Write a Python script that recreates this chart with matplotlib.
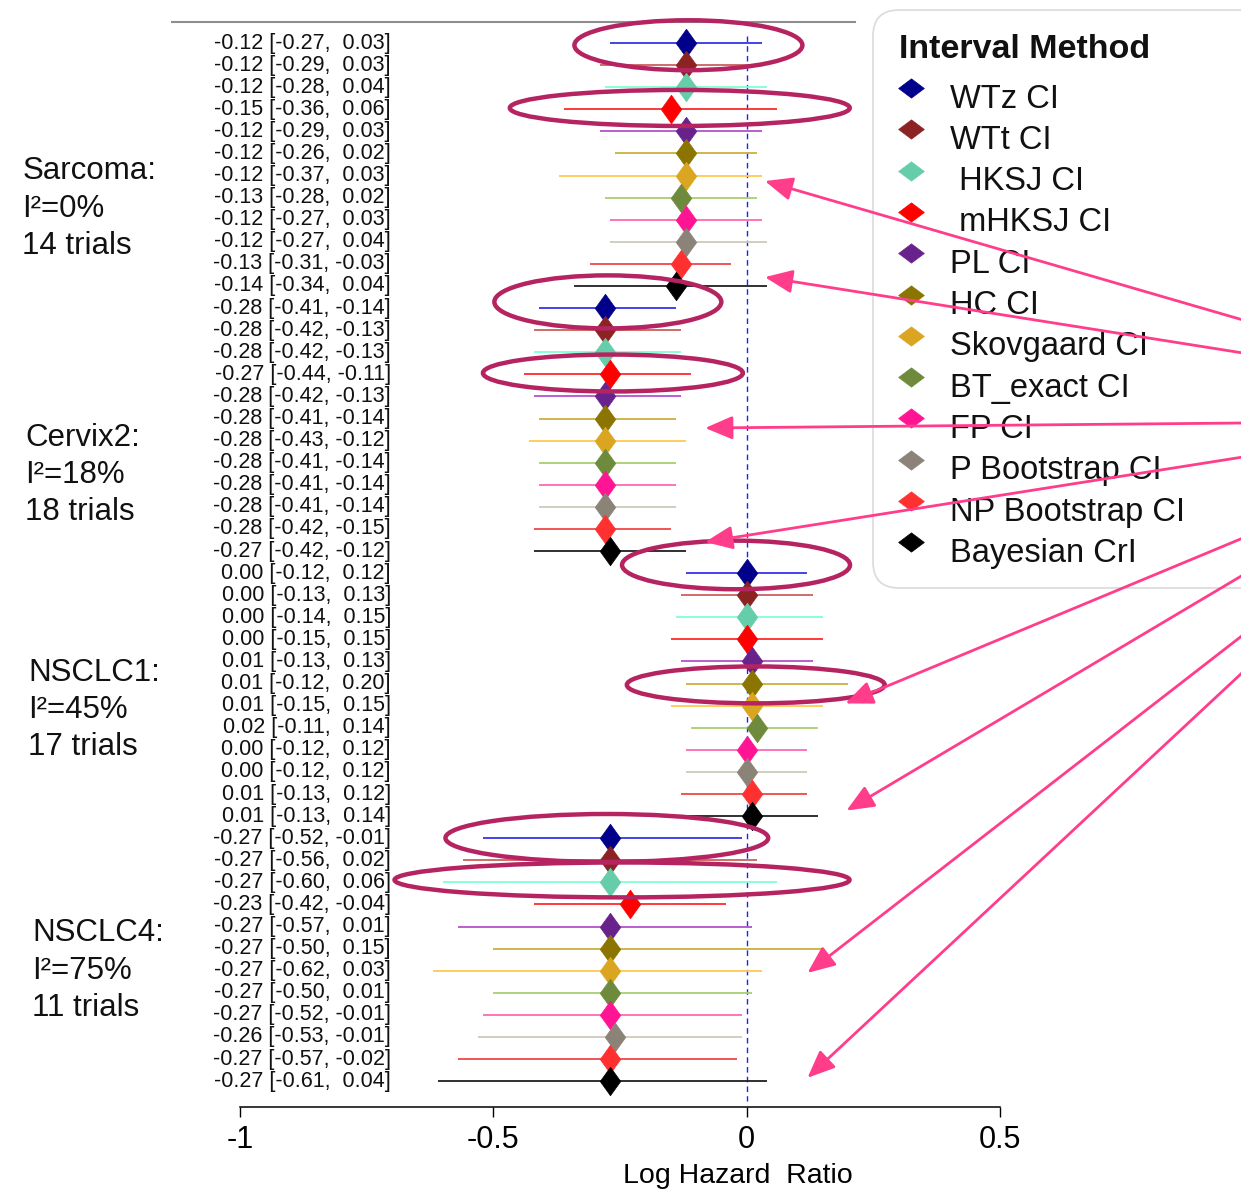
import matplotlib
matplotlib.use("Agg")
import matplotlib.pyplot as plt
from matplotlib.path import Path
from matplotlib.patches import Ellipse, FancyBboxPatch
from matplotlib import font_manager

# ---------------------------------------------------------------- data
methods = ["WTz CI", "WTt CI", " HKSJ CI", " mHKSJ CI", "PL CI", "HC CI",
           "Skovgaard CI", "BT_exact CI", "FP CI", "P Bootstrap CI",
           "NP Bootstrap CI", "Bayesian CrI"]

groups = ["Sarcoma", "Cervix2", "NSCLC1", "NSCLC4"]
i2_pct = [0, 18, 45, 75]
n_trials = [14, 18, 17, 11]

sarcoma_est = [-0.12, -0.12, -0.12, -0.15, -0.12, -0.12, -0.12, -0.13, -0.12, -0.12, -0.13, -0.14]
sarcoma_lo = [-0.27, -0.29, -0.28, -0.36, -0.29, -0.26, -0.37, -0.28, -0.27, -0.27, -0.31, -0.34]
sarcoma_hi = [0.03, 0.03, 0.04, 0.06, 0.03, 0.02, 0.03, 0.02, 0.03, 0.04, -0.03, 0.04]

cervix2_est = [-0.28, -0.28, -0.28, -0.27, -0.28, -0.28, -0.28, -0.28, -0.28, -0.28, -0.28, -0.27]
cervix2_lo = [-0.41, -0.42, -0.42, -0.44, -0.42, -0.41, -0.43, -0.41, -0.41, -0.41, -0.42, -0.42]
cervix2_hi = [-0.14, -0.13, -0.13, -0.11, -0.13, -0.14, -0.12, -0.14, -0.14, -0.14, -0.15, -0.12]

nsclc1_est = [0.00, 0.00, 0.00, 0.00, 0.01, 0.01, 0.01, 0.02, 0.00, 0.00, 0.01, 0.01]
nsclc1_lo = [-0.12, -0.13, -0.14, -0.15, -0.13, -0.12, -0.15, -0.11, -0.12, -0.12, -0.13, -0.13]
nsclc1_hi = [0.12, 0.13, 0.15, 0.15, 0.13, 0.20, 0.15, 0.14, 0.12, 0.12, 0.12, 0.14]

nsclc4_est = [-0.27, -0.27, -0.27, -0.23, -0.27, -0.27, -0.27, -0.27, -0.27, -0.26, -0.27, -0.27]
nsclc4_lo = [-0.52, -0.56, -0.60, -0.42, -0.57, -0.50, -0.62, -0.50, -0.52, -0.53, -0.57, -0.61]
nsclc4_hi = [-0.01, 0.02, 0.06, -0.04, 0.01, 0.15, 0.03, 0.01, -0.01, -0.01, -0.02, 0.04]

x_ticks = [-1, -0.5, 0, 0.5]
x_ticklabels = ["-1", "-0.5", "0", "0.5"]

# ---------------------------------------------------------------- styles
marker_colors = ["#00008B", "#8B2323", "#66CDAA", "#FF0000", "#68228B", "#8B7500",
                 "#DAA520", "#6E8B3D", "#FF1493", "#8B8378", "#FF3030", "#000000"]
line_colors = ["#3535E8", "#CD6060", "#7FFFD4", "#FF2A2A", "#B452CD", "#CDB040",
               "#FFC850", "#A8D070", "#FF69B4", "#CFCAB8", "#EE4848", "#202020"]
ring_color = "#B52461"
arrow_color = "#FF3D8B"

names = {f.name for f in font_manager.fontManager.ttflist}
NARROW = "Liberation Sans Narrow" if "Liberation Sans Narrow" in names else "Liberation Sans"
SANS = "Liberation Sans"

W, H = 1241, 1190
fig = plt.figure(figsize=(W / 100, H / 100), dpi=100)

# legend panel lives on a full-figure canvas underneath the forest plot
lg = fig.add_axes([0, 0, 1, 1], zorder=0)
lg.set_xlim(0, W)
lg.set_ylim(H, 0)
lg.axis("off")

ax = fig.add_axes([240 / W, (H - 1107) / H, 760 / W, 1085 / H], zorder=1)
ax.patch.set_alpha(0)

# ---------------------------------------------------------------- forest plot
all_est = [sarcoma_est, cervix2_est, nsclc1_est, nsclc4_est]
all_lo = [sarcoma_lo, cervix2_lo, nsclc1_lo, nsclc4_lo]
all_hi = [sarcoma_hi, cervix2_hi, nsclc1_hi, nsclc4_hi]
n_m = len(methods)

tall_diamond = Path([(0, 1), (0.72, 0), (0, -1), (-0.72, 0), (0, 1)],
                    [Path.MOVETO, Path.LINETO, Path.LINETO, Path.LINETO, Path.CLOSEPOLY])
flat_diamond = Path([(0, 0.75), (1, 0), (0, -0.75), (-1, 0), (0, 0.75)],
                    [Path.MOVETO, Path.LINETO, Path.LINETO, Path.LINETO, Path.CLOSEPOLY])

for g in range(len(groups)):
    for m in range(n_m):
        row = g * n_m + m
        e, lo, hi = all_est[g][m], all_lo[g][m], all_hi[g][m]
        ax.hlines(row, lo, hi, colors=line_colors[m], lw=1.3, zorder=2)
        ax.plot([e], [row], ls="none", marker=tall_diamond, ms=20.5,
                color=marker_colors[m], mec=marker_colors[m], mew=0.5, zorder=3)
        ax.text(-0.702, row, f"{e:.2f} [{lo:.2f}, {hi:5.2f}]", ha="right", va="center",
                fontsize=15.5, family=NARROW, color="#111111", clip_on=False)

n_rows = len(groups) * n_m
ax.vlines(0, -0.3, n_rows - 0.1, colors="#2020FF", linestyles=(0, (4, 3)), lw=1, zorder=1)

# group descriptions
group_mid = [7.5, 19.55, 30.2, 42.0]
group_x = [-1.430, -1.424, -1.418, -1.410]
for g, name in enumerate(groups):
    for k, txt in enumerate([f"{name}:", f"I\u00b2={i2_pct[g]}%", f"{n_trials[g]} trials"]):
        ax.text(group_x[g], group_mid[g] + (k - 1) * 1.69, txt, ha="left", va="center",
                fontsize=22.5, family=SANS, color="#111111", clip_on=False)

ax.set_xlim(-1, 0.5)
ax.set_ylim(48.17, -0.951)
ax.spines["left"].set_visible(False)
ax.spines["right"].set_visible(False)
ax.spines["top"].set_bounds(-1.134, 0.214)
ax.spines["top"].set_color("#8E8E8E")
ax.spines["top"].set_linewidth(1.5)
ax.spines["bottom"].set_bounds(-1, 0.5)
ax.spines["bottom"].set_linewidth(1.1)
ax.set_yticks([])
ax.set_xticks(x_ticks)
ax.set_xticklabels(x_ticklabels, family=NARROW, fontsize=22)
ax.tick_params(axis="x", direction="out", length=7, width=1, pad=6)
ax.set_xlabel("Log Hazard  Ratio", family=NARROW, fontsize=20.5)
ax.xaxis.set_label_coords(0.655, -0.064)
ax.xaxis.label.set_verticalalignment("center")

# ---------------------------------------------------------------- highlights
rings = [(-0.115, 0.1, 0.45, 2.26), (-0.132, 2.94, 0.671, 1.63),
         (-0.274, 11.72, 0.448, 2.40), (-0.264, 14.94, 0.513, 1.67),
         (-0.021, 23.63, 0.450, 2.20), (0.018, 29.06, 0.509, 1.67),
         (-0.276, 35.99, 0.637, 2.17), (-0.246, 37.89, 0.898, 1.58)]
for cx, cy, w, h in rings:
    ax.add_patch(Ellipse((cx, cy), w, h, fill=False, ec=ring_color, lw=3.2,
                         zorder=5, clip_on=False))

pointers = [((0.036, 6.25), 320), ((0.036, 10.6), 353), ((-0.082, 17.43), 423),
            ((-0.082, 22.59), 457), ((0.195, 29.9), 538), ((0.197, 34.75), 575),
            ((0.120, 42.1), 635), ((0.120, 46.85), 672)]
for tip, tail_y in pointers:
    ax.annotate("", xy=tip, xycoords="data", xytext=(W + 2, H - tail_y),
                textcoords="figure pixels", annotation_clip=False, zorder=6,
                arrowprops=dict(arrowstyle="-|>,head_length=0.8,head_width=0.34",
                                color=arrow_color, lw=2, shrinkA=0, shrinkB=0,
                                mutation_scale=21))

# ---------------------------------------------------------------- legend
lg.add_patch(FancyBboxPatch((873, 10), 420, 578,
                            boxstyle="round,pad=0,rounding_size=26",
                            fc="white", ec="#DADADA", lw=1.2))
lg.text(899, 49, "Interval Method", fontsize=24.5, fontweight="bold", family=SANS,
        va="center", ha="left", color="#111111")
for i, label in enumerate(methods):
    y0 = 88 + 41.3 * i
    lg.plot([911], [y0], ls="none", marker=flat_diamond, ms=18.5,
            color=marker_colors[i], mec=marker_colors[i], mew=0.5)
    lg.text(950, y0 + 11, label, fontsize=23.5, family=SANS, va="center", ha="left",
            color="#111111")

fig.savefig("out.png", dpi=100)
